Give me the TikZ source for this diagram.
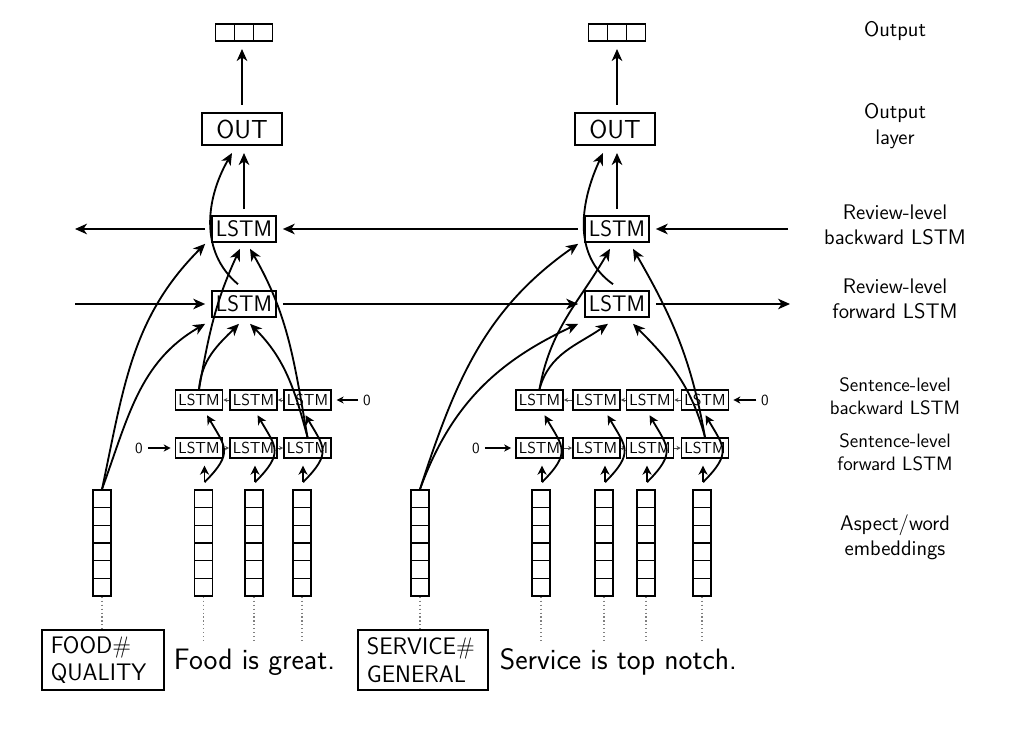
\documentclass[tikz,border=0pt]{standalone}
\usepackage{fontspec}
\renewcommand{\familydefault}{\sfdefault}
\usetikzlibrary{arrows.meta,calc}
\tikzset{
  ar/.style={-{Stealth[length=8.5pt,width=7.5pt,inset=2.5pt]}, line width=1.3pt},
  mar/.style={-{Stealth[length=6.5pt,width=6.5pt,inset=2pt]}, line width=1.3pt},
  zar/.style={-{Stealth[length=5pt,width=5pt,inset=1.5pt]}, line width=0.9pt},
  tinyar/.style={-{Stealth[length=3pt,width=3pt,inset=1pt]}, line width=0.6pt, black!70},
  revbox/.style={draw, line width=1.2pt, minimum width=1.6cm, minimum height=0.65cm, inner sep=0pt, outer sep=0.17cm, font=\sffamily\fontsize{16}{19}\selectfont},
  outbox/.style={draw, line width=1.2pt, minimum width=2cm, minimum height=0.8cm, inner sep=0pt, outer sep=0.2cm, font=\sffamily\fontsize{18.5}{21}\selectfont},
  sbox/.style={draw, line width=1.1pt, minimum width=1.175cm, minimum height=0.5cm, inner sep=0pt, font=\sffamily\fontsize{11.3}{13}\selectfont},
  vecbox/.style={draw, line width=1.1pt, minimum width=1.425cm, minimum height=0.425cm, inner sep=0pt, outer sep=0.2cm,
    path picture={\foreach \i in {1,2} \draw[line width=1.1pt] ($(path picture bounding box.south west)!\i/3!(path picture bounding box.south east)$) -- ($(path picture bounding box.north west)!\i/3!(path picture bounding box.north east)$);}},
  embbox/.style={draw, line width=1.1pt, minimum width=0.45cm, minimum height=2.65cm, inner sep=0pt,
    path picture={\foreach \i in {1,...,5} \draw[line width=1pt] ($(path picture bounding box.north west)!\i/6!(path picture bounding box.south west)$) -- ($(path picture bounding box.north east)!\i/6!(path picture bounding box.south east)$);}},
  aspbox/.style={draw, line width=1.1pt, align=left, inner xsep=0.22cm, minimum height=1.5cm, font=\sffamily\fontsize{17}{19.5}\selectfont},
  sent/.style={anchor=west, font=\sffamily\fontsize{21}{24}\selectfont},
  lab/.style={align=center, font=\sffamily\fontsize{15}{18}\selectfont},
  slab/.style={align=center, font=\sffamily\fontsize{13.8}{16.5}\selectfont},
  zlab/.style={font=\sffamily\fontsize{11}{12}\selectfont},
  dots/.style={dotted, gray, line width=0.8pt},
}
\begin{document}
\begin{tikzpicture}[x=0.025cm, y=-0.025cm, font=\sffamily]
\fill[white] (0,0) rectangle (1024,742);
\useasboundingbox (0,0) rectangle (1024,742);

% ---------------- left block ----------------
\node[vecbox] (Lvec) at (244,32.5) {};
\node[outbox] (LOUT) at (242,129) {OUT};
\node[revbox] (Lrb) at (244,229) {LSTM};
\node[revbox] (Lrf) at (244,304) {LSTM};
\node[sbox] (Lsb1) at (199,400) {LSTM};
\node[sbox] (Lsb2) at (253.5,400) {LSTM};
\node[sbox] (Lsb3) at (307.5,400) {LSTM};
\node[sbox] (Lsf1) at (199,448) {LSTM};
\node[sbox] (Lsf2) at (253.5,448) {LSTM};
\node[sbox] (Lsf3) at (307.5,448) {LSTM};
\node[embbox] (Le0) at (102,543) {};
\node[embbox] (Le1) at (203.5,543) {};
\node[embbox] (Le2) at (254,543) {};
\node[embbox] (Le3) at (302,543) {};
\node[aspbox, text width=2.61cm] (Lasp) at (103,660) {FOOD\#\\QUALITY};
\node[sent] (Lsent) at (169,662) {Food is great.};
\node[zlab] (Lz0) at (139,448) {0};
\node[zlab] (Lz1) at (367,400) {0};

% ---------------- right block ----------------
\node[vecbox] (Rvec) at (617,32.5) {};
\node[outbox] (ROUT) at (615,129) {OUT};
\node[revbox] (Rrb) at (617,229) {LSTM};
\node[revbox] (Rrf) at (617,304) {LSTM};
\node[sbox] (Rsb1) at (539.5,400) {LSTM};
\node[sbox] (Rsb2) at (596.5,400) {LSTM};
\node[sbox] (Rsb3) at (650,400) {LSTM};
\node[sbox] (Rsb4) at (705,400) {LSTM};
\node[sbox] (Rsf1) at (539.5,448) {LSTM};
\node[sbox] (Rsf2) at (596.5,448) {LSTM};
\node[sbox] (Rsf3) at (650,448) {LSTM};
\node[sbox] (Rsf4) at (705,448) {LSTM};
\node[embbox] (Re0) at (420,543) {};
\node[embbox] (Re1) at (541,543) {};
\node[embbox] (Re2) at (604,543) {};
\node[embbox] (Re3) at (646,543) {};
\node[embbox] (Re4) at (702,543) {};
\node[aspbox, text width=2.81cm] (Rasp) at (423,660) {SERVICE\#\\GENERAL};
\node[sent] (Rsent) at (495,662) {Service is top notch.};
\node[zlab] (Rz0) at (476,448) {0};
\node[zlab] (Rz1) at (765,400) {0};

% ---------------- labels ----------------
\node[lab] (t1) at (895,31) {Output};
\node[lab] (t2) at (895,126) {Output\\layer};
\node[lab] (t3) at (895,225) {Review-level\\backward LSTM};
\node[lab] (t4) at (895,299) {Review-level\\forward LSTM};
\node[slab] (t5) at (895,396) {Sentence-level\\backward LSTM};
\node[slab] (t6) at (895,452) {Sentence-level\\forward LSTM};
\node[lab] (t7) at (895,537) {Aspect/word\\embeddings};

% ---------------- horizontal review-level connectors ----------------
\coordinate (Lbl) at (75,229);
\coordinate (Rbr) at (788,229);
\coordinate (Lfl) at (75,304);
\coordinate (Rfr) at (790,304);
\draw[ar] (Rbr) -- (Rrb);
\draw[ar] (Rrb) -- (Lrb);
\draw[ar] (Lrb) -- (Lbl);
\draw[ar] (Lfl) -- (Lrf);
\draw[ar] (Lrf) -- (Rrf);
\draw[ar] (Rrf) -- (Rfr);

% ---------------- output connectors ----------------
\draw[ar] (LOUT.north) -- (LOUT.north |- Lvec.south);
\draw[ar] (Lrb.north) -- (Lrb.north |- LOUT.south);
\draw[ar] ($(Lrf.north)+(-6,0)$) to[out=140,in=-120] ($(LOUT.south)+(-10,0)$);
\draw[ar] (ROUT.north -| Rvec.south) -- (Rvec.south);
\draw[ar] (Rrb.north) -- (Rrb.north |- ROUT.south);
\draw[ar] ($(Rrf.north)+(-4,0)$) to[out=145,in=-115] ($(ROUT.south)+(-12,0)$);

% ---------------- left: into review-level ----------------
\draw[ar] (Le0.north) to[out=78,in=-135] ($(Lrb.south west)+(0,-5)$);
\draw[ar] (Le0.north) to[out=70,in=-150] (Lrf.south west);
\draw[ar] (Lsb1.north) to[out=80,in=-115] ($(Lrb.south)+(-4,0)$);
\draw[ar] (Lsb1.north) to[out=85,in=-135] ($(Lrf.south)+(-5,0)$);
\draw[ar] (Lsf3.north) to[out=100,in=-60] ($(Lrb.south)+(6,0)$);
\draw[ar] (Lsf3.north) to[out=105,in=-45] ($(Lrf.south)+(6,0)$);

% ---------------- right: into review-level ----------------
\draw[ar] (Re0.north) to[out=72,in=-145] ($(Rrb.south west)+(0,-5)$);
\draw[ar] (Re0.north) to[out=70,in=-155] (Rrf.south west);
\draw[ar] (Rsb1.north) to[out=80,in=-120] ($(Rrb.south)+(-7,0)$);
\draw[ar] (Rsb1.north) to[out=75,in=-145] ($(Rrf.south)+(-9,0)$);
\draw[ar] (Rsf4.north) to[out=100,in=-60] ($(Rrb.south)+(16,0)$);
\draw[ar] (Rsf4.north) to[out=105,in=-45] ($(Rrf.south)+(16,0)$);

% ---------------- sentence-level chains ----------------
\draw[tinyar] (Lsf1) -- (Lsf2);
\draw[tinyar] (Lsf2) -- (Lsf3);
\draw[tinyar] (Lsb3) -- (Lsb2);
\draw[tinyar] (Lsb2) -- (Lsb1);
\draw[tinyar] (Rsf1) -- (Rsf2);
\draw[tinyar] (Rsf2) -- (Rsf3);
\draw[tinyar] (Rsf3) -- (Rsf4);
\draw[tinyar] (Rsb4) -- (Rsb3);
\draw[tinyar] (Rsb3) -- (Rsb2);
\draw[tinyar] (Rsb2) -- (Rsb1);
\draw[zar, shorten >=0.1cm] (Lz0) -- (Lsf1);
\draw[zar, shorten >=0.12cm] (Lz1) -- (Lsb3);
\draw[zar, shorten >=0.1cm] (Rz0) -- (Rsf1);
\draw[zar, shorten >=0.1cm] (Rz1) -- (Rsb4);

% ---------------- word embeddings into sentence-level ----------------
\foreach \e/\f/\b in {Le1/Lsf1/Lsb1, Le2/Lsf2/Lsb2, Le3/Lsf3/Lsb3, Re1/Rsf1/Rsb1, Re2/Rsf2/Rsb2, Re3/Rsf3/Rsb3, Re4/Rsf4/Rsb4} {
  \coordinate (s\e) at ($(\e.north)+(1,-7)$);
  \draw[mar, shorten >=0.17cm] (s\e) -- (s\e |- \f.south);
  \draw[mar, shorten >=0.13cm] (s\e) to[out=45,in=-60,looseness=1.5] (s\e |- \b.south);
}

% ---------------- dotted links to text ----------------
\draw[dots] (Le0.south) -- (Le0.south |- Lasp.north);
\draw[dots] (Re0.south) -- (Re0.south |- Rasp.north);
\foreach \e in {Le1,Le2,Le3} \draw[dots] (\e.south) -- (\e.south |- Lsent.north);
\foreach \e in {Re1,Re2,Re3,Re4} \draw[dots] (\e.south) -- (\e.south |- Rsent.north);
\end{tikzpicture}
\end{document}
